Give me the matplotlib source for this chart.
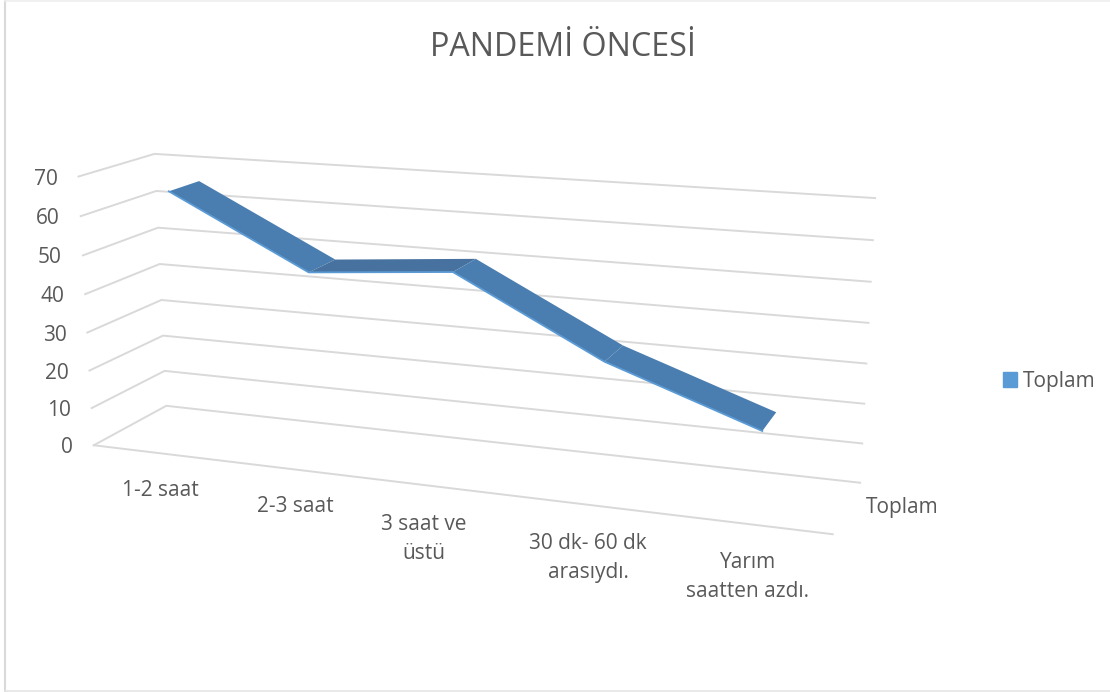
import numpy as np
import matplotlib.pyplot as plt
from matplotlib.patches import Patch

plt.rcParams['font.family'] = ['Open Sans', 'DejaVu Sans']

title = 'PANDEMİ ÖNCESİ'
categories = ['1-2 saat', '2-3 saat', '3 saat ve\nüstü', '30 dk- 60 dk\narasıydı.', 'Yarım\nsaatten azdı.']
series_name = 'Toplam'
values = [65.6, 47.7, 50.7, 32, 19]
y_ticks = [0, 10, 20, 30, 40, 50, 60, 70]

GRID = '#d9d9d9'
TEXT = '#595959'
RIBBON = '#4a7eb1'
RIBBON_FLAT = '#47729f'
EDGE = '#5b9bd5'

# box corners (cat 0..1, value 0..70, depth 0..1) -> where they land in the picture
corners = [
    ((0, 0, 0), (94, 445)),
    ((0, 70, 0), (78, 177)),
    ((0, 0, 1), (166, 406)),
    ((0, 70, 1), (155, 153.5)),
    ((1, 0, 1), (860, 483)),
    ((1, 70, 1), (875, 198)),
    ((1, 0, 0), (833, 534)),
]

# solve the perspective camera for the box
rows, rhs = [], []
for (a, b, c), (u, v) in corners:
    b = b / 70
    rows.append([a, b, c, 1, 0, 0, 0, 0, -u * a, -u * b, -u * c])
    rhs.append(u)
    rows.append([0, 0, 0, 0, a, b, c, 1, -v * a, -v * b, -v * c])
    rhs.append(v)
cam = np.append(np.linalg.lstsq(np.array(rows), np.array(rhs), rcond=None)[0], 1).reshape(3, 4)


def project(x, val, d):
    p = cam @ np.array([x, val / 70, d, 1.0])
    return p[0] / p[2], p[1] / p[2]


fig = plt.figure(figsize=(11.1, 6.92), dpi=100)
ax = fig.add_axes([0, 0, 1, 1])
ax.set_xlim(0, 1110)
ax.set_ylim(692, 0)
ax.axis('off')

# chart area border
ax.plot([5, 5], [0, 691], color=GRID, lw=1.5)
ax.plot([5, 1110], [0.5, 0.5], color='#eeeeee', lw=1.2)
ax.plot([5, 1110], [690.5, 690.5], color='#e4e4e4', lw=1.2)

# walls
for t in y_ticks:
    pts = [project(0, t, 0), project(0, t, 1), project(1, t, 1)]
    ax.plot(*zip(*pts), color=GRID, lw=1.4, solid_joinstyle='miter', zorder=1)
    fx, fy = project(0, t, 0)
    ax.text(fx - 21, fy + 2.5, str(t), ha='right', va='center', fontsize=15, color=TEXT)
ax.plot(*zip(project(0, 0, 0), project(1, 0, 0)), color=GRID, lw=1.4, zorder=1)

# ribbon
d_front, d_back = 0.29, 0.71
xs = [(i + 0.5) / len(values) for i in range(len(values))]
for i in range(len(values) - 1):
    quad = [project(xs[i], values[i], d_front), project(xs[i], values[i], d_back),
            project(xs[i + 1], values[i + 1], d_back), project(xs[i + 1], values[i + 1], d_front)]
    flat = i == 1  # this stretch faces away from the light
    ax.fill(*zip(*quad), color=RIBBON_FLAT if flat else RIBBON, lw=0, zorder=3)
front = [project(x, v, d_front) for x, v in zip(xs, values)]
ax.plot(*zip(*front), color=EDGE, lw=1.3, zorder=4)

# texts
ax.text(563, 47, title, ha='center', va='center', fontsize=23.2, color=TEXT)
label_pos = [(160, 491), (295, 506), (424, 539), (588, 558), (748, 577)]
for lab, (lx, ly) in zip(categories, label_pos):
    ax.text(lx, ly, lab, ha='center', va='center', fontsize=15, color=TEXT, linespacing=1.45)
ax.text(866, 508, series_name, ha='left', va='center', fontsize=15, color=TEXT)

ax.legend(handles=[Patch(color=EDGE, label=series_name)], loc='center left',
          bbox_to_anchor=(984 / 1110, 1 - 381 / 692), frameon=False, fontsize=15,
          handlelength=0.7, handleheight=0.7, handletextpad=0.25, labelcolor=TEXT)

fig.savefig('out.png', dpi=100)
